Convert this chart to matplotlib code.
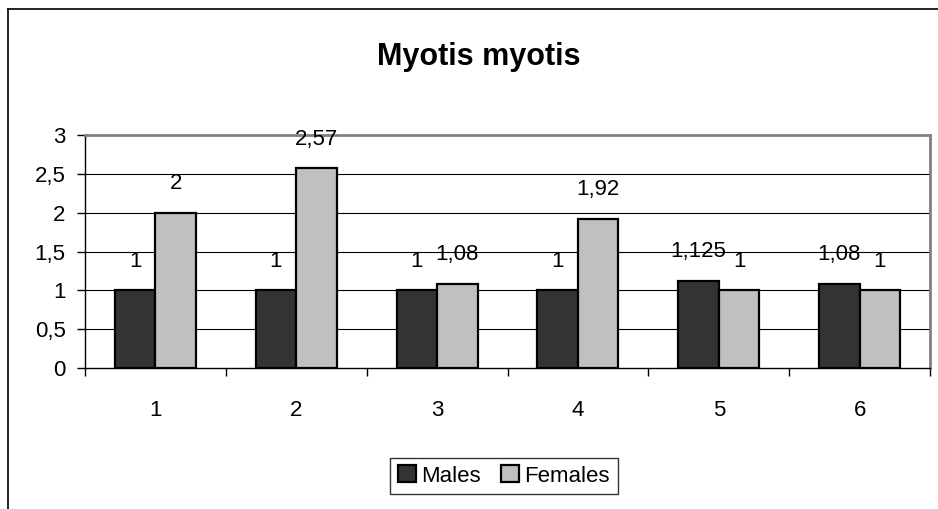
import numpy as np
import matplotlib
matplotlib.use('Agg')
import matplotlib.pyplot as plt
from matplotlib.lines import Line2D

plt.rcParams['font.family'] = ['Liberation Sans', 'DejaVu Sans']

categories = ['1', '2', '3', '4', '5', '6']
males = [1, 1, 1, 1, 1.125, 1.08]
females = [2, 2.57, 1.08, 1.92, 1, 1]
males_lbl = ['1', '1', '1', '1', '1,125', '1,08']
females_lbl = ['2', '2,57', '1,08', '1,92', '1', '1']
yticks = [0, 0.5, 1, 1.5, 2, 2.5, 3]
ytick_lbl = ['0', '0,5', '1', '1,5', '2', '2,5', '3']

fs = 16

fig = plt.figure(figsize=(9.38, 5.09), dpi=100)
ax = fig.add_axes([85/938, 1-368/509, (930-85)/938, (368-135)/509])

x = np.arange(len(categories))
w = 0.288
b1 = ax.bar(x - w/2, males, w, color='#333333', edgecolor='black', linewidth=1.6, label='Males', zorder=3)
b2 = ax.bar(x + w/2, females, w, color='#c0c0c0', edgecolor='black', linewidth=1.6, label='Females', zorder=3)

for xi, v, s in zip(x - w/2, males, males_lbl):
    ax.annotate(s, (xi, v), xytext=(0, 21), textcoords='offset points',
                ha='center', va='center', fontsize=fs, zorder=5)
for xi, v, s in zip(x + w/2, females, females_lbl):
    ax.annotate(s, (xi, v), xytext=(0, 21), textcoords='offset points',
                ha='center', va='center', fontsize=fs, zorder=5)

ax.set_xlim(-0.5, 5.5)
ax.set_ylim(0, 3)
ax.set_yticks(yticks)
ax.set_yticklabels(ytick_lbl, fontsize=fs)
ax.set_xticks(np.arange(-0.5, 6, 1))
ax.set_xticklabels([])
ax.set_xticks(x, minor=True)
ax.set_xticklabels(categories, minor=True, fontsize=fs)
ax.tick_params(axis='x', which='major', direction='out', length=6, width=1)
ax.tick_params(axis='x', which='minor', length=0, pad=23)
ax.tick_params(axis='y', direction='out', length=6, width=1, pad=8)

for yv in yticks[1:-1]:
    ax.axhline(yv, color='black', linewidth=0.8, zorder=1)

ax.spines['top'].set_color('#808080')
ax.spines['right'].set_color('#808080')
ax.spines['top'].set_linewidth(2)
ax.spines['right'].set_linewidth(2)
ax.spines['left'].set_linewidth(1)
ax.spines['bottom'].set_linewidth(1)

fig.text(479/938, 1-57/509, 'Myotis myotis', ha='center', va='center',
         fontsize=22, fontweight='bold')

leg = fig.legend(handles=[b1, b2], loc='center', bbox_to_anchor=(504/938, 1-476/509),
                 ncol=2, fontsize=fs, frameon=True, fancybox=False,
                 handlelength=0.8, handleheight=0.8, handletextpad=0.25,
                 columnspacing=0.9, borderpad=0.35)
leg.get_frame().set_edgecolor('black')
leg.get_frame().set_linewidth(1)

# outer chart frame
fig.add_artist(Line2D([8/938, 8/938], [0, 1-9/509], transform=fig.transFigure, color='black', linewidth=1.2))
fig.add_artist(Line2D([8/938, 1], [1-9/509, 1-9/509], transform=fig.transFigure, color='black', linewidth=1.2))

fig.savefig('out.png', dpi=100)
